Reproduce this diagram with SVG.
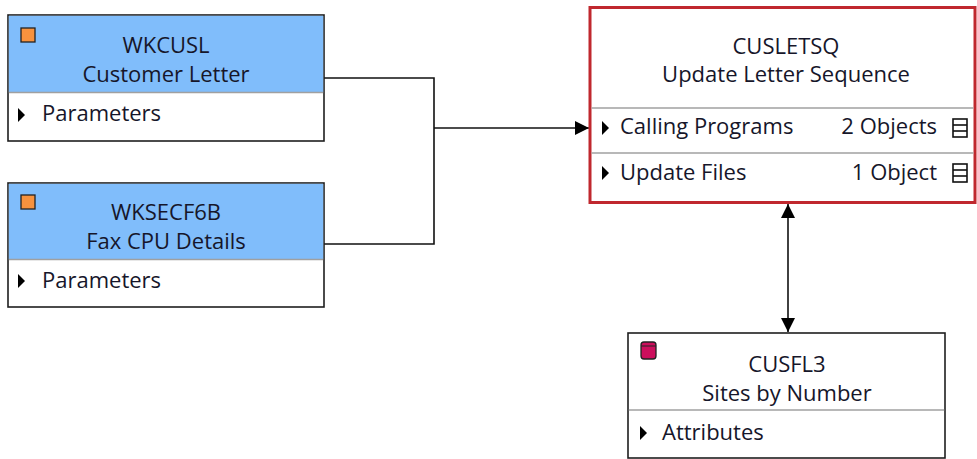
<svg xmlns="http://www.w3.org/2000/svg" width="977" height="459" viewBox="0 0 977 459">
<style>
.box{fill:#fff;stroke:#1e1e1e;stroke-width:1.6}
.hdr{fill:#80bdfb}
.sep{stroke:#a0a0a0;stroke-width:1.6}
.t{font-family:"Open Sans","Noto Sans",sans-serif;font-size:22px;fill:#16162a}
.c{text-anchor:middle}
.r{text-anchor:end}
.tri{fill:#000}
.con{fill:none;stroke:#111;stroke-width:1.6}
.ico{fill:#fff;stroke:#111;stroke-width:1.6}
</style>
<defs>
<marker id="ah" viewBox="0 0 10 10" refX="10" refY="5" markerWidth="16" markerHeight="14" markerUnits="userSpaceOnUse" orient="auto-start-reverse">
<path d="M0,0 L10,5 L0,10 Z" fill="#000"/>
</marker>
</defs>
<g id="connectors">
<path class="con" d="M324,78 H434 V244 H324"/>
<path class="con" d="M434,128 H589" marker-end="url(#ah)"/>
<path class="con" d="M788,204 V332" marker-start="url(#ah)" marker-end="url(#ah)"/>
</g>
<g id="WKCUSL">
<rect class="box" x="8" y="15" width="316" height="126"/>
<rect class="hdr" x="8.8" y="15.8" width="314.4" height="76.2"/>
<line class="sep" x1="8.8" y1="92.5" x2="323.2" y2="92.5"/>
<rect x="21" y="28" width="14" height="14" fill="#f7923e" stroke="#222" stroke-width="1.3"/>
<text class="t c" x="166" y="53">WKCUSL</text>
<text class="t c" x="166" y="82">Customer Letter</text>
<path class="tri" d="M18,108 L25,115 L18,122 Z"/>
<text class="t" x="42" y="121">Parameters</text>
</g>
<g id="WKSECF6B">
<rect class="box" x="8" y="183" width="316" height="124"/>
<rect class="hdr" x="8.8" y="183.8" width="314.4" height="75.2"/>
<line class="sep" x1="8.8" y1="259.5" x2="323.2" y2="259.5"/>
<rect x="21" y="195" width="14" height="14" fill="#f7923e" stroke="#222" stroke-width="1.3"/>
<text class="t c" x="166" y="220">WKSECF6B</text>
<text class="t c" x="166" y="249">Fax CPU Details</text>
<path class="tri" d="M18,274 L25,281 L18,288 Z"/>
<text class="t" x="42" y="288">Parameters</text>
</g>
<g id="CUSLETSQ">
<rect x="590" y="7.5" width="385" height="195" fill="#fff" stroke="#c0282e" stroke-width="3"/>
<line class="sep" x1="591.5" y1="108" x2="973.5" y2="108"/>
<line class="sep" x1="591.5" y1="153" x2="973.5" y2="153"/>
<text class="t c" x="786" y="54">CUSLETSQ</text>
<text class="t c" x="786" y="82">Update Letter Sequence</text>
<path class="tri" d="M602,121 L609,128 L602,135 Z"/>
<text class="t" x="620" y="134">Calling Programs</text>
<text class="t r" x="937" y="134">2 Objects</text>
<rect class="ico" x="953" y="119" width="14" height="18"/>
<line class="ico" x1="953" y1="125" x2="967" y2="125"/>
<line class="ico" x1="953" y1="131" x2="967" y2="131"/>
<path class="tri" d="M602,166 L609,173 L602,180 Z"/>
<text class="t" x="620" y="180">Update Files</text>
<text class="t r" x="937" y="180">1 Object</text>
<rect class="ico" x="953" y="164" width="14" height="18"/>
<line class="ico" x1="953" y1="170" x2="967" y2="170"/>
<line class="ico" x1="953" y1="176" x2="967" y2="176"/>
</g>
<g id="CUSFL3">
<rect class="box" x="628" y="333" width="317" height="125"/>
<line class="sep" x1="628.8" y1="410" x2="944.2" y2="410"/>
<rect x="641" y="342" width="15" height="17" rx="3" fill="#cc0e5c" stroke="#222" stroke-width="1.3"/>
<line x1="641" y1="346" x2="656" y2="346" stroke="#222" stroke-width="1"/>
<text class="t c" x="787" y="372">CUSFL3</text>
<text class="t c" x="787" y="401">Sites by Number</text>
<path class="tri" d="M640,426 L647,433 L640,440 Z"/>
<text class="t" x="662" y="440">Attributes</text>
</g>
</svg>
